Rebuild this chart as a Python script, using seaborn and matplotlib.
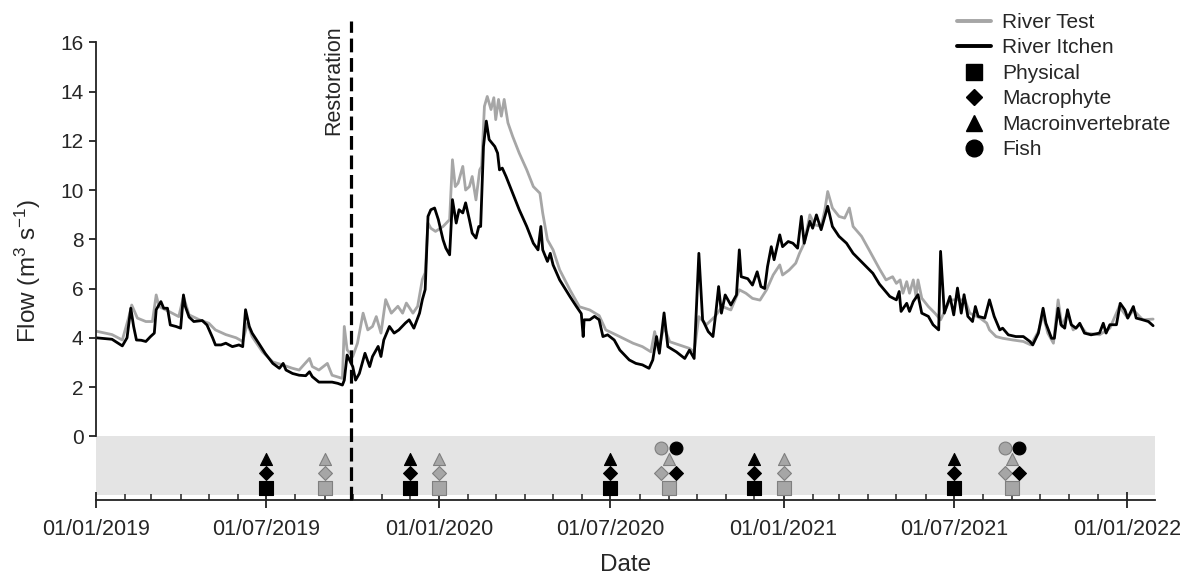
import numpy as np
import pandas as pd
import seaborn as sns
import matplotlib.pyplot as plt
import matplotlib.dates as mdates
from matplotlib.lines import Line2D

# Flow: day offsets from 01/01/2019 and flow (m3/s)
start = pd.Timestamp("2019-01-01")

itchen_days = [0, 17, 28, 33, 37, 40, 43, 48, 53, 58, 62, 64, 69, 72, 76, 79, 85, 90, 93, 95,
               99, 104, 113, 118, 124, 127, 133, 138, 145, 152, 156, 159, 163, 166, 173, 180,
               188, 195, 199, 202, 209, 216, 223, 227, 230, 237, 244, 251, 257, 262, 264, 267,
               273, 276, 280, 286, 291, 294, 300, 303, 306, 312, 317, 322, 329, 333, 338, 344,
               347, 350, 353, 356, 360, 364, 369, 372, 376, 379, 383, 386, 390, 393, 397, 400,
               404, 407, 409, 412, 415, 418, 424, 427, 429, 432, 436, 443, 450, 458, 465, 470,
               473, 475, 480, 483, 486, 493, 504, 511, 516, 518, 519, 525, 530, 535, 539, 544,
               551, 557, 567, 574, 581, 588, 592, 596, 599, 604, 608, 617, 626, 631, 636, 641,
               645, 651, 656, 659, 662, 665, 669, 675, 681, 684, 686, 693, 698, 703, 707, 711,
               714, 718, 721, 727, 730, 736, 741, 746, 750, 753, 759, 762, 766, 771, 778, 783,
               790, 798, 805, 812, 819, 826, 833, 844, 851, 854, 856, 862, 865, 869, 874, 878,
               885, 890, 896, 898, 902, 908, 912, 916, 920, 923, 927, 932, 935, 938, 945, 950,
               955, 961, 964, 970, 978, 986, 993, 996, 1002, 1007, 1010, 1016, 1019, 1023, 1026,
               1030, 1033, 1037, 1042, 1046, 1051, 1058, 1067, 1071, 1074, 1078, 1085, 1089,
               1094, 1097, 1103, 1106, 1113, 1119, 1124]
itchen_flow = [4.0, 3.94, 3.67, 4.0, 5.2, 4.46, 3.91, 3.9, 3.85, 4.05, 4.19, 5.14, 5.47, 5.2,
               5.2, 4.52, 4.46, 4.39, 5.74, 5.27, 4.84, 4.66, 4.7, 4.52, 4.0, 3.71, 3.71, 3.78,
               3.64, 3.71, 3.64, 5.14, 4.46, 4.19, 3.78, 3.36, 2.96, 2.76, 2.96, 2.69, 2.55, 2.48,
               2.46, 2.62, 2.42, 2.2, 2.2, 2.2, 2.15, 2.08, 2.28, 3.3, 2.83, 2.28, 2.55, 3.37,
               2.83, 3.24, 3.65, 3.24, 3.91, 4.46, 4.19, 4.32, 4.6, 4.73, 4.39, 5.0, 5.55, 5.96,
               8.93, 9.2, 9.27, 8.8, 7.98, 7.64, 7.37, 9.61, 8.66, 9.2, 9.07, 9.48, 8.8, 8.25,
               8.05, 8.52, 8.52, 11.77, 12.8, 12.05, 11.77, 11.5, 10.82, 10.89, 10.55, 9.87, 9.2,
               8.52, 7.84, 7.57, 8.52, 7.57, 7.1, 7.43, 6.96, 6.35, 5.67, 5.26, 4.98, 4.05, 4.73,
               4.73, 4.87, 4.73, 4.05, 4.12, 3.91, 3.5, 3.1, 2.96, 2.9, 2.76, 3.1, 4.05, 3.37,
               5.01, 3.64, 3.43, 3.16, 3.5, 3.16, 7.43, 4.73, 4.25, 4.05, 5.0, 6.08, 5.0, 5.74,
               5.33, 5.74, 7.57, 6.48, 6.4, 6.14, 6.68, 6.08, 6.0, 6.89, 7.7, 7.17, 8.18, 7.7,
               7.91, 7.84, 7.64, 8.93, 7.84, 8.73, 8.45, 8.99, 8.39, 9.34, 8.52, 8.12, 7.84, 7.43,
               7.16, 6.89, 6.62, 6.18, 5.68, 5.54, 5.88, 5.07, 5.4, 5.07, 5.47, 5.75, 5.0, 4.87,
               4.53, 4.32, 7.51, 5.0, 5.68, 4.93, 6.02, 5.0, 5.75, 4.87, 4.66, 5.27, 4.87, 4.8,
               5.54, 4.87, 4.32, 4.39, 4.12, 4.05, 4.05, 3.85, 3.71, 4.19, 5.2, 4.59, 3.98, 3.98,
               5.2, 4.53, 4.39, 5.14, 4.53, 4.39, 4.59, 4.19, 4.12, 4.19, 4.59, 4.19, 4.53, 4.53,
               5.4, 5.13, 4.8, 5.27, 4.8, 4.73, 4.66, 4.49]

test_days = [0, 17, 28, 35, 38, 44, 53, 60, 64, 67, 78, 88, 93, 99, 110, 120, 127, 138, 149,
             156, 161, 166, 177, 188, 199, 209, 216, 227, 230, 237, 246, 251, 262, 264, 267,
             273, 278, 284, 289, 294, 298, 303, 308, 314, 321, 326, 330, 337, 342, 347, 350,
             353, 356, 361, 369, 376, 379, 382, 385, 390, 393, 397, 400, 404, 408, 410, 413,
             416, 420, 423, 425, 428, 431, 434, 438, 443, 450, 458, 465, 472, 475, 480, 486,
             493, 504, 514, 525, 535, 542, 553, 564, 571, 581, 590, 594, 598, 604, 610, 620,
             631, 636, 641, 649, 658, 666, 675, 684, 691, 698, 706, 713, 720, 727, 730, 737,
             744, 748, 753, 759, 764, 771, 775, 778, 783, 790, 796, 801, 805, 814, 822, 833,
             840, 847, 851, 855, 858, 862, 865, 869, 872, 874, 878, 885, 892, 898, 908, 916,
             924, 929, 940, 947, 950, 957, 964, 975, 986, 994, 1002, 1007, 1012, 1018, 1023,
             1027, 1033, 1039, 1046, 1053, 1067, 1078, 1088, 1097, 1103, 1113, 1124]
test_flow = [4.27, 4.13, 3.91, 4.86, 5.33, 4.8, 4.66, 4.66, 5.74, 5.27, 5.06, 4.86, 5.67, 4.93,
             4.73, 4.59, 4.32, 4.13, 4.0, 3.85, 4.59, 4.05, 3.43, 3.02, 2.89, 2.76, 2.69, 3.16,
             2.83, 2.69, 2.96, 2.48, 2.35, 4.46, 3.51, 3.24, 3.78, 5.0, 4.32, 4.46, 4.86, 4.19,
             5.55, 5.0, 5.28, 5.0, 5.41, 5.0, 5.28, 6.37, 6.64, 8.66, 8.45, 8.32, 8.52, 8.8,
             11.23, 10.14, 10.28, 10.96, 10.0, 10.14, 10.55, 9.6, 10.82, 10.96, 13.4, 13.8,
             13.27, 13.75, 12.86, 13.68, 13.0, 13.68, 12.73, 12.18, 11.5, 10.82, 10.14, 9.87,
             9.06, 7.98, 7.57, 6.76, 5.94, 5.26, 5.13, 4.9, 4.32, 4.12, 3.91, 3.78, 3.64, 3.43,
             4.25, 3.5, 4.46, 3.84, 3.71, 3.57, 3.43, 4.86, 4.53, 4.86, 5.27, 5.13, 5.95, 5.81,
             5.6, 5.53, 5.95, 6.55, 6.96, 6.55, 6.75, 7.03, 7.43, 7.84, 8.99, 8.59, 8.52, 9.2,
             9.94, 9.27, 8.93, 8.86, 9.27, 8.52, 8.12, 7.57, 6.8, 6.35, 6.48, 6.21, 6.35, 5.81,
             6.28, 5.81, 6.35, 5.67, 6.35, 5.61, 5.27, 5.0, 4.73, 5.54, 5.54, 5.54, 5.0, 4.8,
             4.6, 4.32, 4.05, 3.98, 3.91, 3.85, 3.71, 4.26, 4.93, 4.19, 3.78, 5.54, 4.46, 5.0,
             4.32, 4.53, 4.19, 4.12, 4.39, 5.27, 4.8, 5.13, 4.73, 4.76]

# Survey dates
survey_river = (["Itchen"] * 3 + ["Test"] * 3 + ["Itchen"] * 3 + ["Test"] * 3 + ["Itchen"] * 3
                + ["Test"] * 4 + ["Itchen"] * 2 + ["Itchen"] * 3 + ["Test"] * 3
                + ["Itchen"] * 3 + ["Test"] * 4 + ["Itchen"] * 2)
survey_date = (["2019-07-01"] * 3 + ["2019-09-01"] * 3 + ["2019-12-01"] * 3 + ["2020-01-01"] * 3
               + ["2020-07-01"] * 3
               + ["2020-09-01", "2020-09-01", "2020-08-24", "2020-08-24"]
               + ["2020-09-09", "2020-09-09"]
               + ["2020-12-01"] * 3 + ["2021-01-01"] * 3 + ["2021-07-01"] * 3
               + ["2021-09-01", "2021-09-01", "2021-08-24", "2021-08-24"]
               + ["2021-09-08", "2021-09-08"])
survey_type = (["Physical", "Macrophyte", "Macroinvertebrate"] * 5
               + ["Physical", "Macroinvertebrate", "Macrophyte", "Fish"]
               + ["Macrophyte", "Fish"]
               + ["Physical", "Macrophyte", "Macroinvertebrate"] * 3
               + ["Physical", "Macroinvertebrate", "Macrophyte", "Fish"]
               + ["Macrophyte", "Fish"])

restoration_date = pd.Timestamp("2019-09-29")

# row of each survey type inside the grey band
type_level = {"Physical": -2.09, "Macrophyte": -1.48, "Macroinvertebrate": -0.94, "Fish": -0.46}
type_marker = {"Physical": "s", "Macrophyte": "D", "Macroinvertebrate": "^", "Fish": "o"}
type_size = {"Physical": 88, "Macrophyte": 50, "Macroinvertebrate": 75, "Fish": 85}

GREY = "#a6a6a6"

itchen = pd.DataFrame({"date": start + pd.to_timedelta(itchen_days, "D"), "flow": itchen_flow})
test = pd.DataFrame({"date": start + pd.to_timedelta(test_days, "D"), "flow": test_flow})
surveys = pd.DataFrame({"river": survey_river, "date": pd.to_datetime(survey_date),
                        "type": survey_type})
surveys["level"] = surveys["type"].map(type_level)

sns.set_style("white")
plt.rcParams['font.family'] = ['Liberation Sans', 'DejaVu Sans']
plt.rcParams['mathtext.fontset'] = 'custom'
plt.rcParams['mathtext.rm'] = 'Liberation Sans'
plt.rcParams['mathtext.it'] = 'Liberation Sans:italic'

fig = plt.figure(figsize=(11.97, 5.78), dpi=100)
ax = fig.add_axes([96 / 1197, 1 - 500.3 / 578, 1059 / 1197, 458 / 578])

# grey band for the survey markers
ax.axhspan(-2.4, 0, color="#e4e4e4", lw=0, zorder=0)

sns.lineplot(data=test, x="date", y="flow", color=GREY, lw=2.0, ax=ax)
sns.lineplot(data=itchen, x="date", y="flow", color="black", lw=2.0, ax=ax)

for river, fill, edge in [("Test", GREY, "#7f7f7f"), ("Itchen", "black", "black")]:
    for t in type_marker:
        sub = surveys[(surveys["river"] == river) & (surveys["type"] == t)]
        sns.scatterplot(data=sub, x="date", y="level", marker=type_marker[t],
                        s=type_size[t], color=fill, edgecolor=edge, linewidth=0.8,
                        ax=ax, zorder=4, legend=False)

ax.axvline(restoration_date, ymin=0, ymax=1.046, color="black", lw=2.3,
           dashes=(4.3, 1.8), clip_on=False, zorder=5)
ax.annotate("Restoration", (restoration_date, 16.7), xytext=(-5, 0),
            textcoords="offset points", rotation=90, ha="right", va="top", fontsize=15.5,
            annotation_clip=False)

ax.set_xlim(pd.Timestamp("2019-01-01"), pd.Timestamp("2022-01-31"))
ax.set_ylim(-2.6, 16)
ax.set_yticks(np.arange(0, 17, 2))

ax.xaxis.set_major_locator(mdates.MonthLocator(bymonth=[1, 7]))
ax.xaxis.set_minor_locator(mdates.MonthLocator())
ax.xaxis.set_major_formatter(mdates.DateFormatter("%d/%m/%Y"))

for side in ["top", "right"]:
    ax.spines[side].set_visible(False)
ax.spines["left"].set_bounds(0, 16)
for side in ["left", "bottom"]:
    ax.spines[side].set_color("#222222")
    ax.spines[side].set_linewidth(1.3)

ax.tick_params(axis="y", which="major", direction="out", length=5, width=1.3,
               color="#222222", labelsize=15, pad=4, left=True)
ax.tick_params(axis="x", which="major", direction="inout", length=11, width=1.3,
               color="#222222", labelsize=15.5, pad=8, bottom=True)
ax.tick_params(axis="x", which="minor", direction="in", length=4, width=1.1,
               color="#222222", bottom=True)

ax.set_xlabel("Date", fontsize=17.5, labelpad=10)
ax.set_ylabel(r"Flow (m$^3$ s$^{-1}$)", fontsize=17.5, labelpad=12)

handles = [
    Line2D([], [], color=GREY, lw=2.8),
    Line2D([], [], color="black", lw=2.8),
    Line2D([], [], color="black", marker="s", ls="", ms=11.5),
    Line2D([], [], color="black", marker="D", ls="", ms=8.5),
    Line2D([], [], color="black", marker="^", ls="", ms=12),
    Line2D([], [], color="black", marker="o", ls="", ms=12),
]
labels = ["River Test", "River Itchen", "Physical", "Macrophyte", "Macroinvertebrate", "Fish"]
fig.legend(handles, labels, loc="upper left", bbox_to_anchor=(957 / 1197, 1 - 13 / 578),
           frameon=False, fontsize=15, handlelength=1.65, handletextpad=0.5,
           labelspacing=0.31, borderpad=0, borderaxespad=0)

fig.savefig("out.png", dpi=100)
